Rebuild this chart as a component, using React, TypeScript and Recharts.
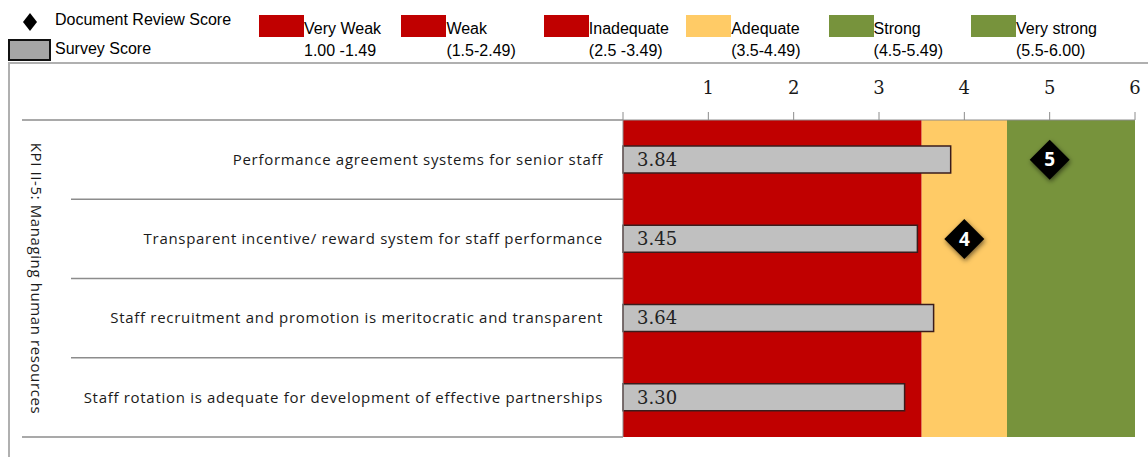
import React from 'react';
import { ComposedChart, Bar, Scatter, XAxis, YAxis, ReferenceArea, LabelList } from 'recharts';

const CATEGORIES = [
  'Performance agreement systems for senior staff',
  'Transparent incentive/ reward system for staff performance',
  'Staff recruitment and promotion is meritocratic and transparent',
  'Staff rotation is adequate for development of effective partnerships',
];
const SURVEY_SCORES = [3.84, 3.45, 3.64, 3.3];
const DOC_REVIEW_SCORES: (number | null)[] = [5, 4, null, null];
const X_TICKS = [0, 1, 2, 3, 4, 5, 6];

const BAND_FROM = [0, 3.5, 4.5];
const BAND_TO = [3.5, 4.5, 6];
const BAND_COLORS = ['#c00000', '#ffcb66', '#77933c'];

const LEGEND_LABELS = ['Very Weak', 'Weak', 'Inadequate', 'Adequate', 'Strong', 'Very strong'];
const LEGEND_RANGES = ['1.00 -1.49', '(1.5-2.49)', '(2.5 -3.49)', '(3.5-4.49)', '(4.5-5.49)', '(5.5-6.00)'];
const LEGEND_COLORS = ['#c00000', '#c00000', '#c00000', '#ffcb66', '#77933c', '#77933c'];

const AXIS_TITLE = 'KPI II-5: Managing human resources';

const data = CATEGORIES.map((name, i) => ({
  name,
  survey: SURVEY_SCORES[i],
  doc: DOC_REVIEW_SCORES[i],
}));

const LABEL_FONT = '"Open Sans", sans-serif';
const SERIF = '"DejaVu Serif", serif';
const TICK_GAP = 20;

// category label + the row separator lines in the left panel
const CategoryTick = (props: any) => {
  const { x, y, payload, index, visibleTicksCount } = props;
  const half = payload.offset || 0;
  const right = x + TICK_GAP;
  return (
    <g>
      <line x1={index === 0 ? 22 : 71} x2={right} y1={y - half} y2={y - half} stroke="#8c8c8c" strokeWidth={1.5} />
      {index === visibleTicksCount - 1 && (
        <line x1={22} x2={right} y1={y + half} y2={y + half} stroke="#8c8c8c" strokeWidth={1.5} />
      )}
      <text x={x} y={y} dy="0.35em" textAnchor="end" fontFamily={LABEL_FONT} fontSize={15} letterSpacing={0.7} fill="#1a1a1a">
        {payload.value}
      </text>
    </g>
  );
};

const DiamondShape = (props: any) => {
  const { cx, cy, payload, index } = props;
  if (payload == null || payload.doc == null || cx == null || cy == null || isNaN(cx)) return <g />;
  const id = `dshadow-${index}`;
  return (
    <g>
      <defs>
        <filter id={id} x="-50%" y="-50%" width="200%" height="200%">
          <feDropShadow dx={1} dy={2} stdDeviation={2.5} floodColor="#000" floodOpacity={0.55} />
        </filter>
      </defs>
      <polygon
        points={`${cx},${cy - 20} ${cx + 20},${cy} ${cx},${cy + 20} ${cx - 20},${cy}`}
        fill="#000"
        filter={`url(#${id})`}
      />
      <text x={cx} y={cy} dy="0.36em" textAnchor="middle" fill="#fff" fontWeight={700} fontSize={19} fontFamily={LABEL_FONT}>
        {payload.doc}
      </text>
    </g>
  );
};

const Legend = () => (
  <div style={{ position: 'absolute', left: 0, top: 0, width: 1148, height: 64, fontFamily: '"Liberation Sans", Arial, sans-serif', fontSize: 16, color: '#000' }}>
    <svg style={{ position: 'absolute', left: 22, top: 12 }} width={16} height={20}>
      <polygon points="8,1 15,10 8,19 1,10" fill="#000" />
    </svg>
    <div style={{ position: 'absolute', left: 55, top: 11, lineHeight: '18px' }}>Document Review Score</div>
    <div style={{ position: 'absolute', left: 8, top: 39, width: 39, height: 18, background: '#a6a6a6', border: '2px solid #111' }} />
    <div style={{ position: 'absolute', left: 55, top: 40, lineHeight: '18px' }}>Survey Score</div>
    {LEGEND_LABELS.map((label, i) => (
      <div key={label} style={{ position: 'absolute', left: 259 + i * 142.4, top: 15 }}>
        <div style={{ width: 45, height: 22, background: LEGEND_COLORS[i] }} />
        <div style={{ position: 'absolute', left: 45, top: 3, lineHeight: '22px', whiteSpace: 'nowrap' }}>
          {label}
          <br />
          {LEGEND_RANGES[i]}
        </div>
      </div>
    ))}
  </div>
);

export default function App() {
  return (
    <div style={{ position: 'absolute', left: 0, top: 0, width: 1148, height: 457, background: '#fff', overflow: 'hidden' }}>
      <Legend />
      <div style={{ position: 'absolute', left: 8, top: 62, width: 1140, height: 395, borderTop: '2.5px solid #b0b0b0', borderLeft: '2.5px solid #b0b0b0' }} />
      <div style={{ position: 'absolute', left: 0, top: 0 }}>
        <ComposedChart width={1148} height={457} data={data} layout="vertical" margin={{ top: 90, right: 13, bottom: 20, left: 8 }}>
          {BAND_FROM.map((from, i) => (
            <ReferenceArea key={i} x1={from} x2={BAND_TO[i]} fill={BAND_COLORS[i]} fillOpacity={1} stroke="none" ifOverflow="visible" />
          ))}
          <XAxis
            type="number"
            orientation="top"
            domain={[0, 6]}
            ticks={X_TICKS}
            height={30}
            tickSize={8}
            tickMargin={18}
            axisLine={{ stroke: '#8c8c8c' }}
            tickLine={{ stroke: '#8c8c8c' }}
            tickFormatter={(v: number) => (v === 0 ? '' : String(v))}
            tick={{ fill: '#1a1a1a', fontSize: 18, fontFamily: SERIF }}
          />
          <YAxis
            type="category"
            dataKey="name"
            width={615}
            allowDuplicatedCategory={false}
            tickSize={0}
            tickMargin={TICK_GAP}
            tickLine={false}
            axisLine={{ stroke: '#8c8c8c' }}
            tick={<CategoryTick />}
            interval={0}
            label={{
              value: AXIS_TITLE,
              content: (p: any) => {
                const vb = p.viewBox || {};
                const lx = (vb.x || 0) + 28;
                const ly = (vb.y || 0) + (vb.height || 0) / 2;
                return (
                  <text x={lx} y={ly} textAnchor="middle" dy="0.35em" transform={`rotate(90 ${lx} ${ly})`} fontFamily={LABEL_FONT} fontSize={15} letterSpacing={0.6} fill="#1a1a1a">
                    {AXIS_TITLE}
                  </text>
                );
              },
            }}
          />
          <Bar dataKey="survey" barSize={27} fill="#c0c0c0" stroke="#3a1c1c" strokeWidth={1.5} isAnimationActive={false}>
            <LabelList
              dataKey="survey"
              position="insideLeft"
              offset={14}
              formatter={(v: number) => v.toFixed(2)}
              style={{ fill: '#222', fontSize: 18, fontFamily: SERIF }}
            />
          </Bar>
          <Scatter dataKey="doc" shape={<DiamondShape />} isAnimationActive={false} />
        </ComposedChart>
      </div>
    </div>
  );
}
